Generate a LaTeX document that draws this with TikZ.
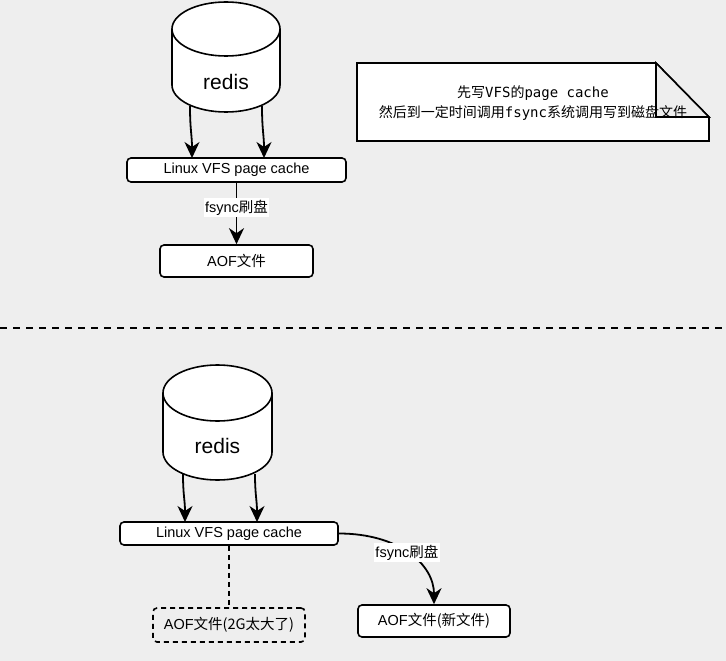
\documentclass[tikz,border=0pt]{standalone}
\usepackage{fontspec}
\setmainfont{Liberation Sans}
\newfontfamily\cjkf{Noto Sans CJK SC}
\newfontfamily\monof{DejaVu Sans Mono}
\usetikzlibrary{arrows.meta}
\definecolor{bgc}{RGB}{238,238,238}
\newcommand\zhs[1]{{\cjkf #1}}
\tikzset{
  cyl/.style={draw, fill=white, line width=1.6pt},
  bx/.style={draw, line width=1.6pt, fill=white, rounded corners=4pt, font=\fontsize{14.5}{16}\selectfont, inner sep=0pt},
  dbx/.style={draw, line width=1.6pt, rounded corners=4pt, dash pattern=on 5pt off 4pt, font=\fontsize{14.5}{16}\selectfont, inner sep=0pt},
  arr/.style={line width=1.8pt, -{Stealth[length=16pt,width=15pt,inset=5pt]}},
  lbl/.style={fill=white, font=\fontsize{14.5}{16}\selectfont, inner sep=1.5pt},
  sepline/.style={line width=1.8pt, dash pattern=on 7pt off 6pt},
  cyltext/.style={font=\fontsize{21}{24}\selectfont, inner sep=0pt},
}
\begin{document}
\begin{tikzpicture}[x=1pt,y=-1pt]
\fill[bgc] (0,0) rectangle (726,661);
\useasboundingbox (0,0) rectangle (726,661);

% ---------- top part ----------
\filldraw[cyl] (172,29) -- (172,85) arc[start angle=180,end angle=360,x radius=54pt,y radius=27pt]
  -- (280,29) arc[start angle=0,end angle=180,x radius=54pt,y radius=27pt] -- cycle;
\draw[cyl] (172,29) arc[start angle=180,end angle=360,x radius=54pt,y radius=27pt];
\node[cyltext] (redis1) at (226,81.5) {redis};

\node[bx, minimum width=219pt, minimum height=24pt] (vfs1) at (236.5,170) {Linux VFS page cache};
\node[bx, minimum width=153pt, minimum height=32pt] (aof1) at (236.5,261) {AOF\zhs{文件}};

\coordinate (r1a) at (190,106);
\coordinate (r1b) at (262,106);
\coordinate (v1a) at (192,158);
\coordinate (v1b) at (264,158);
\draw[arr] (r1a) .. controls (190,130) and (192,135) .. (v1a);
\draw[arr] (r1b) .. controls (262,130) and (264,135) .. (v1b);
\draw[arr] (vfs1.south) -- node[lbl, pos=0.4] (fs1) {fsync\zhs{刷盘}} (aof1.north);

% note
\filldraw[fill=white, line width=1.6pt] (357,63) -- (656,63) -- (709,117) -- (709,141) -- (357,141) -- cycle;
\filldraw[fill=bgc, line width=1.6pt] (656,63) -- (656,117) -- (709,117) -- cycle;
\node[align=center, font=\fontsize{14}{20}\selectfont, inner sep=0pt] (note) at (533,103)
  {\zhs{先写}\monof VFS\zhs{的}\monof page cache\\
   \zhs{然后到一定时间调用}\monof fsync\zhs{系统调用写到磁盘文件}};

% separator
\draw[sepline] (0,328) -- (726,328);

% ---------- bottom part ----------
\filldraw[cyl] (163,393) -- (163,452) arc[start angle=180,end angle=360,x radius=54.5pt,y radius=28pt]
  -- (272,393) arc[start angle=0,end angle=180,x radius=54.5pt,y radius=28pt] -- cycle;
\draw[cyl] (163,393) arc[start angle=180,end angle=360,x radius=54.5pt,y radius=28pt];
\node[cyltext] (redis2) at (217.5,446) {redis};

\node[bx, minimum width=218pt, minimum height=23pt] (vfs2) at (229,533.5) {Linux VFS page cache};
\node[dbx, minimum width=152pt, minimum height=34pt] (aofd) at (229,625) {AOF\zhs{文件(2G太大了)}};
\node[bx, minimum width=152pt, minimum height=32pt] (aofn) at (434,621) {AOF\zhs{文件(新文件)}};

\coordinate (r2a) at (183,474);
\coordinate (r2b) at (255,474);
\coordinate (v2a) at (185,522);
\coordinate (v2b) at (257,522);
\draw[arr] (r2a) .. controls (183,495) and (185,500) .. (v2a);
\draw[arr] (r2b) .. controls (255,495) and (257,500) .. (v2b);
\draw[line width=1.8pt, dash pattern=on 5pt off 4pt] (vfs2.south) -- (aofd.north);
\draw[arr] (vfs2.east) .. controls +(60,0) and +(0,-40) .. node[lbl, pos=0.48] (fs2) {fsync\zhs{刷盘}} (aofn.north);
\end{tikzpicture}
\end{document}
